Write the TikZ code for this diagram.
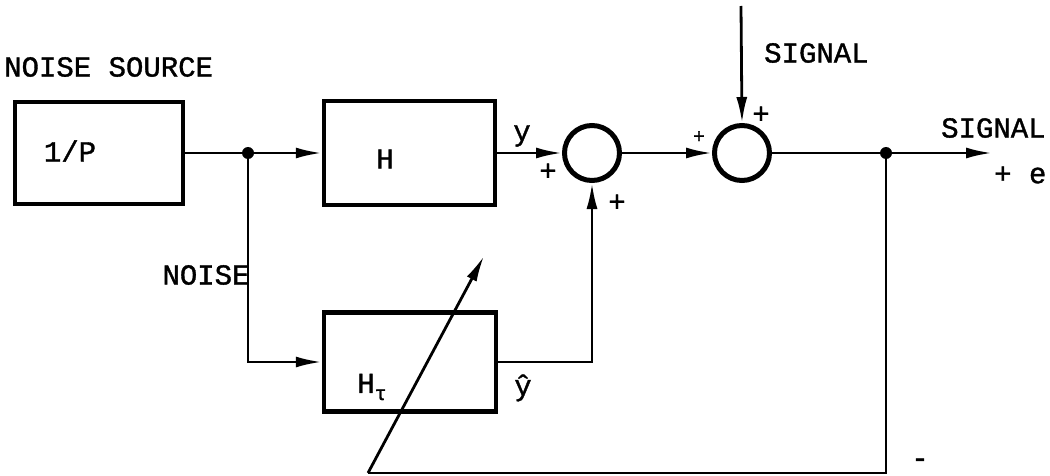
\documentclass[tikz,border=0pt]{standalone}
\usepackage{fontspec}
\setmainfont{Liberation Mono}[FakeBold=1.2]
\usetikzlibrary{arrows.meta}
\begin{document}
\begin{tikzpicture}[x=1pt,y=-1pt,
  font=\fontsize{29}{31}\selectfont,
  blk/.style={draw, line width=4.5pt, inner sep=0pt},
  sumc/.style={draw, circle, line width=5pt, minimum size=55pt, inner sep=0pt},
  dot/.style={circle, fill, inner sep=0pt, minimum size=12pt},
  wire/.style={line width=2.8pt},
  arr/.style={wire, -{Latex[length=26pt,width=11pt]}},
  lbl/.style={inner sep=0pt},
  small/.style={inner sep=0pt, font=\fontsize{20}{22}\selectfont}]
\useasboundingbox (0,0) rectangle (1050,476);
% blocks
\node[blk, minimum width=168pt, minimum height=102pt] (src) at (99,153) {};
\node[blk, minimum width=171pt, minimum height=104pt] (h) at (409.5,153) {};
\node[blk, minimum width=172pt, minimum height=99pt] (ht) at (410,362) {};
\node[lbl] (tsrc) at (70,151) {1/P};
\node[lbl] (th) at (385,159) {H};
\node[lbl] (tht) at (372,387) {H\raisebox{-7pt}{\fontsize{20}{20}\selectfont τ}};
% summing junctions
\node[sumc] (s1) at (592,153) {};
\node[sumc] (s2) at (742,153) {};
% junction dots and free ends
\node[dot] (j1) at (248,153) {};
\node[dot] (j2) at (886,153) {};
\coordinate (out) at (992,153);
\coordinate (sigin) at (741,6);
\coordinate (c1) at (248,362);
\coordinate (c2) at (592,362);
\coordinate (c3) at (886,473);
\coordinate (c4) at (368,473);
\coordinate (tip) at (484,256);
% connectors
\draw[wire] (src.east) -- (j1);
\draw[arr] (j1) -- (h.west);
\draw[arr] (h.east) -- (s1.west);
\draw[arr] (s1.east) -- (s2.west);
\draw[arr] (sigin) -- (s2.north);
\draw[wire] (s2.east) -- (j2);
\draw[arr] (j2) -- (out);
\draw[arr] (j1) -- (c1) -- (ht.west);
\draw[arr] (ht.east) -- (c2) -- (s1.south);
\draw[wire] (j2) -- (c3) -- (c4);
\draw[arr] (c4) -- (tip);
% labels
\node[lbl, anchor=west] (lns) at (4,67) {NOISE SOURCE};
\node[lbl, anchor=west] (lsig1) at (764,53) {SIGNAL};
\node[lbl, anchor=west] (lsig2) at (941,128) {SIGNAL};
\node[lbl, anchor=west] (le) at (994,175) {+ e};
\node[lbl] (lnoise) at (206,275) {NOISE};
\node[lbl] (ly) at (522,136) {y};
\node[lbl] (lyh) at (523,388) {ŷ};
\node[lbl] (p1) at (548,172) {+};
\node[lbl] (p2) at (617,203) {+};
\node[small] (p3) at (699,137) {+};
\node[lbl] (p4) at (761,115) {+};
\node[lbl] (m1) at (920,463) {-};
\end{tikzpicture}
\end{document}
